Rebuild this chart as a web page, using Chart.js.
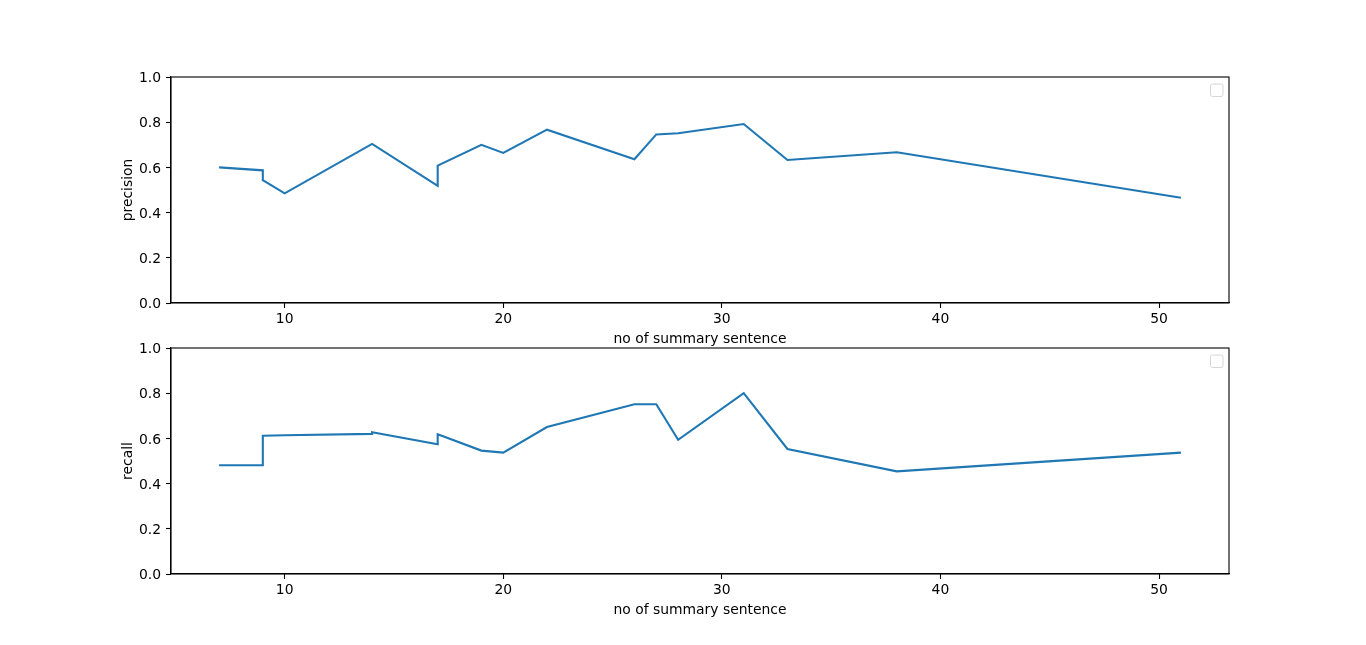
<!DOCTYPE html>
<html>
<head>
<meta charset="utf-8">
<script src="https://cdn.jsdelivr.net/npm/chart.js@4"></script>
<style>
  html, body { margin: 0; padding: 0; background: #fff; }
  #wrap { position: relative; width: 1366px; height: 645px; }
  #wrap canvas { position: absolute; left: 0; top: 0; }
</style>
</head>
<body>
<div id="wrap">
  <canvas id="precisionChart" width="1366" height="645"></canvas>
  <canvas id="recallChart" width="1366" height="645"></canvas>
</div>
<script>
// data
const summarySentences = [7, 9, 9, 10, 14, 14, 17, 17, 19, 20, 22, 26, 27, 28, 31, 33, 38, 51];
const precisionValues = [0.600, 0.587, 0.544, 0.485, 0.704, 0.704, 0.518, 0.608, 0.700, 0.664, 0.767, 0.636, 0.746, 0.751, 0.792, 0.633, 0.667, 0.466];
const recallValues = [0.481, 0.481, 0.612, 0.614, 0.620, 0.627, 0.574, 0.618, 0.546, 0.537, 0.650, 0.751, 0.751, 0.594, 0.800, 0.553, 0.454, 0.537];
const xTicks = [10, 20, 30, 40, 50];
const yTicks = [0, 0.2, 0.4, 0.6, 0.8, 1.0];
const xLabel = 'no of summary sentence';

const LINE_COLOR = '#1f77b4';
const FONT = { family: "'DejaVu Sans', sans-serif", size: 13.9 };
const X_AXIS_H = 45;

// full box round the axes plus the empty legend frame
const framePlugin = {
    id: 'frame',
    afterDraw(chart) {
        const { ctx, chartArea: a } = chart;
        ctx.save();
        ctx.strokeStyle = '#000';
        ctx.lineWidth = 1.1;
        ctx.strokeRect(a.left, a.top, a.right - a.left, a.bottom - a.top);
        // empty legend box
        const bx = a.right - 18.5, by = a.top + 7, s = 12.5;
        ctx.strokeStyle = '#d6d6d6';
        ctx.lineWidth = 1;
        ctx.beginPath();
        ctx.roundRect(bx, by, s, s, 2);
        ctx.stroke();
        ctx.restore();
    }
};

function makeChart(canvasId, values, yLabel, padTop, padBottom) {
    const ctx = document.getElementById(canvasId).getContext('2d');
    return new Chart(ctx, {
        type: 'line',
        data: {
            datasets: [{
                data: summarySentences.map((x, i) => ({ x: x, y: values[i] })),
                borderColor: LINE_COLOR,
                borderWidth: 2.1,
                pointRadius: 0,
                tension: 0,
                fill: false
            }]
        },
        options: {
            responsive: false,
            animation: false,
            devicePixelRatio: 1,
            layout: { padding: { left: 111, right: 137, top: padTop, bottom: padBottom } },
            plugins: {
                legend: { display: false },
                tooltip: { enabled: false }
            },
            scales: {
                x: {
                    type: 'linear',
                    min: 4.8,
                    max: 53.2,
                    afterBuildTicks: (scale) => { scale.ticks = xTicks.map(v => ({ value: v })); },
                    afterFit: (scale) => { scale.height = X_AXIS_H; },
                    ticks: { color: '#000', font: FONT, padding: 3, maxRotation: 0 },
                    grid: { drawOnChartArea: false, drawTicks: true, tickLength: 5, tickColor: '#000', tickWidth: 1.1 },
                    border: { display: true, color: '#000', width: 1.1 },
                    title: { display: true, text: xLabel, color: '#000', font: FONT, padding: 0 }
                },
                y: {
                    min: 0,
                    max: 1,
                    afterBuildTicks: (scale) => { scale.ticks = yTicks.map(v => ({ value: v })); },
                    afterFit: (scale) => { scale.width = 60; },
                    ticks: {
                        color: '#000',
                        font: FONT,
                        padding: 5,
                        labelOffset: 1.5,
                        callback: (v) => Number(v).toFixed(1)
                    },
                    grid: { drawOnChartArea: false, drawTicks: true, tickLength: 5, tickColor: '#000', tickWidth: 1.1 },
                    border: { display: true, color: '#000', width: 1.1 },
                    title: { display: true, text: yLabel, color: '#000', font: FONT, padding: { top: 9, bottom: 0 } }
                }
            }
        },
        plugins: [framePlugin]
    });
}

makeChart('precisionChart', precisionValues, 'precision', 77, 645 - 303 - X_AXIS_H);
makeChart('recallChart', recallValues, 'recall', 348, 645 - 574 - X_AXIS_H);
</script>
</body>
</html>
